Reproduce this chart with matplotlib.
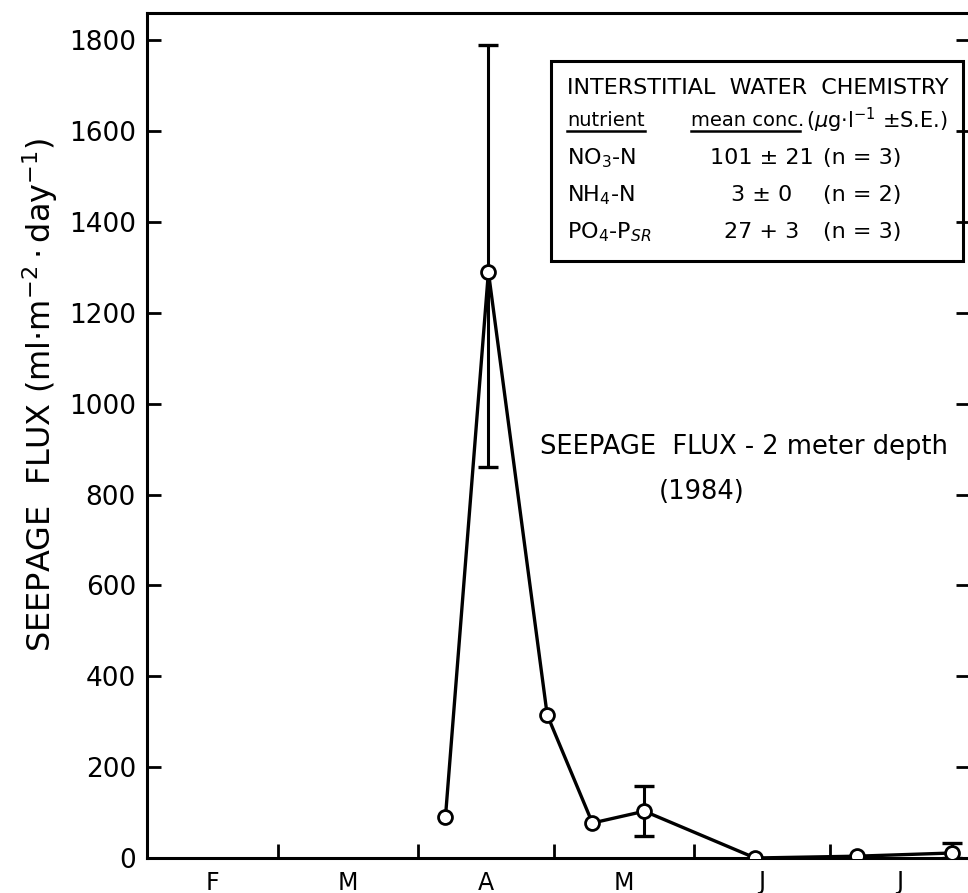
import matplotlib
matplotlib.use('Agg')
import matplotlib.pyplot as plt
from matplotlib.patches import Rectangle
from matplotlib.lines import Line2D
import numpy as np

# days counted from 1 Feb 1984 (leap year)
days = [66, 75.5, 88.5, 98.5, 110, 134.5, 157, 178]
flux = [90, 1290, 315, 77, 103, 0, 4, 11]
err_lo = [0, 430, 0, 0, 55, 0, 0, 11]
err_hi = [0, 500, 0, 0, 55, 0, 0, 22]

month_starts = [29, 60, 90, 121, 151]
month_mid = [14.5, 44.5, 75, 105.5, 136, 166.5]
month_labels = ['F', 'M', 'A', 'M', 'J', 'J']
y_ticks = [0, 200, 400, 600, 800, 1000, 1200, 1400, 1600, 1800]

nutrients = ['NO$_3$-N', 'NH$_4$-N', 'PO$_4$-P$_{SR}$']
means = ['101 \u00b1 21', '3 \u00b1 0', '27 + 3']
counts = ['(n = 3)', '(n = 2)', '(n = 3)']

W, H = 968, 893
plt.rcParams['font.family'] = ['DejaVu Sans']
fig = plt.figure(figsize=(W / 100, H / 100), dpi=100)


def fx(px):
    return px / W


def fy(py):
    return 1 - py / H


ax = fig.add_axes([fx(147), fy(858), (970 - 147) / W, (858 - 13) / H])
ax.set_xlim(0, 182)
ax.set_ylim(0, 1860)

for s in ax.spines.values():
    s.set_linewidth(2.2)

ax.set_yticks(y_ticks)
ax.set_yticklabels([str(v) for v in y_ticks], fontsize=19)
ax.set_xticks(month_starts)
ax.set_xticklabels([])
ax.set_xticks(month_mid, minor=True)
ax.set_xticklabels(month_labels, minor=True, fontsize=17)
ax.tick_params(axis='y', direction='in', length=10, width=2, left=True, right=True, pad=8)
ax.tick_params(axis='x', which='major', direction='in', length=10, width=2)
ax.tick_params(axis='x', which='minor', length=0, pad=9)

ax.plot(days, flux, '-', c='black', lw=2.4, zorder=2)
eb = [i for i in range(len(days)) if err_lo[i] > 0 or err_hi[i] > 0]
ax.errorbar([days[i] for i in eb], [flux[i] for i in eb],
            yerr=[[err_lo[i] for i in eb], [err_hi[i] for i in eb]],
            fmt='none', ecolor='black', elinewidth=2.2, capsize=7, capthick=2.4, zorder=2)
ax.plot(days, flux, 'o', ms=10, mfc='white', mec='black', mew=2, zorder=3)

fig.text(fx(40), fy(395), 'SEEPAGE  FLUX (ml$\\cdot$m$^{-2}\\cdot$day$^{-1}$)',
         rotation=90, ha='center', va='center', fontsize=23)

fig.text(fx(540), fy(447), 'SEEPAGE  FLUX - 2 meter depth', ha='left', va='center', fontsize=18.5)
fig.text(fx(702), fy(492), '(1984)', ha='center', va='center', fontsize=18.5)

# interstitial water chemistry box
fig.patches.append(Rectangle((fx(551), fy(261)), fx(963) - fx(551), fy(61) - fy(261),
                             transform=fig.transFigure, fill=False, lw=2.2, ec='black'))
fig.text(fx(567), fy(88), 'INTERSTITIAL  WATER  CHEMISTRY', ha='left', va='center', fontsize=16)
fig.text(fx(567), fy(120), 'nutrient', ha='left', va='center', fontsize=14)
fig.text(fx(691), fy(120), 'mean conc.', ha='left', va='center', fontsize=14)
fig.text(fx(806), fy(120), '($\\mu$g$\\cdot$l$^{-1}$ \u00b1S.E.)', ha='left', va='center', fontsize=15)
fig.add_artist(Line2D([fx(567), fx(645)], [fy(131), fy(131)], lw=1.8, c='black'))
fig.add_artist(Line2D([fx(691), fx(800)], [fy(131), fy(131)], lw=1.8, c='black'))

row_y = [158, 195, 232]
for i in range(3):
    fig.text(fx(567), fy(row_y[i]), nutrients[i], ha='left', va='center', fontsize=16)
    fig.text(fx(762), fy(row_y[i]), means[i], ha='center', va='center', fontsize=16)
    fig.text(fx(823), fy(row_y[i]), counts[i], ha='left', va='center', fontsize=16)

fig.savefig('out.png', dpi=100)
